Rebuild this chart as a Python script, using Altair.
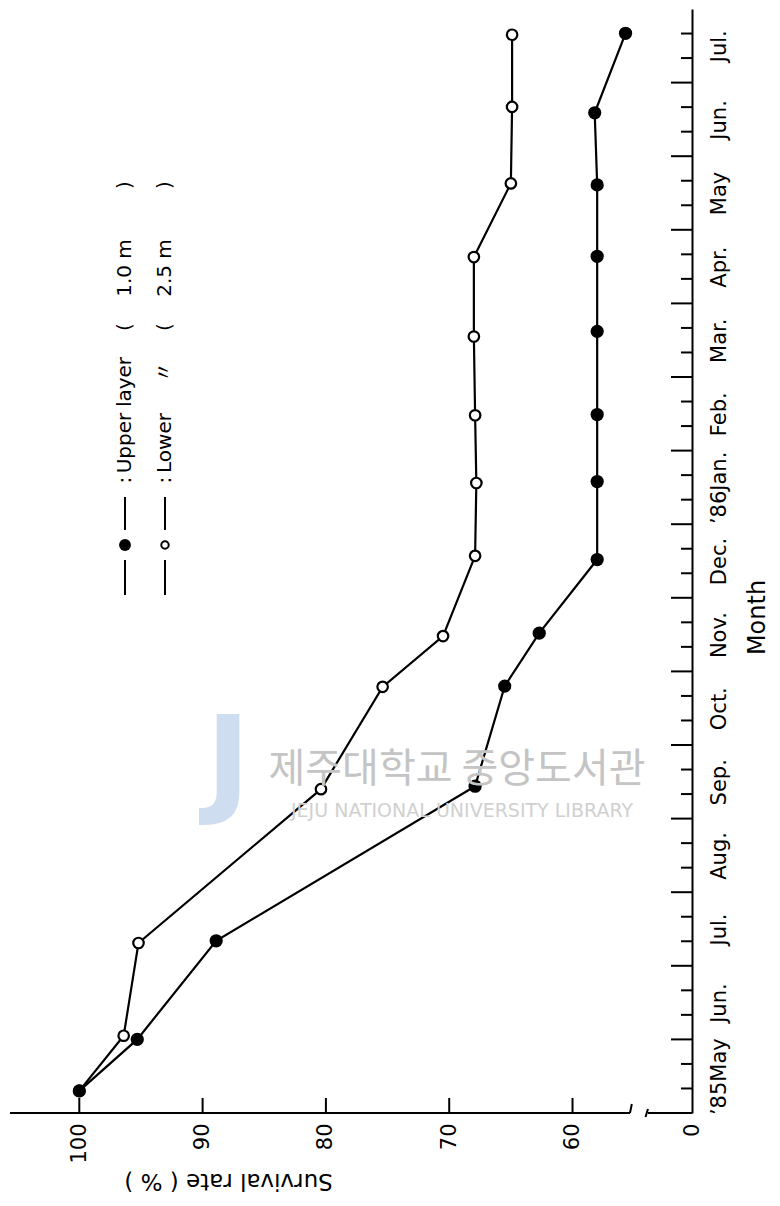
import json
import altair as alt
import pandas as pd

# ---------------- data ----------------
month_labels = ["\u201985May", "Jun.", "Jul.", "Aug.", "Sep.", "Oct.", "Nov.", "Dec.",
                "\u201986Jan.", "Feb.", "Mar.", "Apr.", "May", "Jun.", "Jul."]

# time in months since 1 May 1985
upper_t = [0.30, 1.00, 2.34, 4.44, 5.80, 6.52, 7.52, 8.58, 9.49, 10.62, 11.64, 12.61, 13.59, 14.67]
upper_rate = [100.0, 95.3, 88.9, 67.9, 65.5, 62.7, 58.0, 58.0, 58.0, 58.0, 58.0, 58.0, 58.2, 55.7]

lower_t = [0.30, 1.05, 2.31, 4.40, 5.79, 6.48, 7.57, 8.56, 9.48, 10.55, 11.63, 12.63, 13.67, 14.65]
lower_rate = [100.0, 96.4, 95.2, 80.4, 75.4, 70.5, 67.9, 67.8, 67.9, 68.0, 68.0, 65.0, 64.9, 64.9]

rate_ticks = [100, 90, 80, 70, 60]

# broken survival axis: left end, break, and the position labelled "0"
AXIS_LEFT = 105.62
BREAK_A = 55.34
BREAK_B = 53.88
ZERO_POS = 50.31

W, H = 682, 1104
FONT = "DejaVu Sans"

x_scale = alt.Scale(domain=[AXIS_LEFT, ZERO_POS], nice=False, zero=False)
y_scale = alt.Scale(domain=[0, 15], nice=False, zero=False)

month_expr = json.dumps(month_labels, ensure_ascii=False) + "[floor(datum.value)]"

x_axis = alt.Axis(
    values=rate_ticks + [ZERO_POS],
    labelExpr="datum.value < 55 ? '0' : datum.label",
    ticks=False, domain=False, grid=False,
    labelAngle=270, labelAlign="right", labelBaseline="middle",
    labelPadding=10, labelFont=FONT, labelFontSize=21, labelColor="black",
    labelFlush=False, labelOverlap=False,
    title="Survival  rate ( % )", titleFont=FONT, titleFontSize=23,
    titleFontWeight="normal", titleColor="black", titleAngle=180,
    titleAlign="center", titleBaseline="middle", titleX=218, titleY=67,
)
y_axis = alt.Axis(
    orient="right",
    values=[i + 0.5 for i in range(15)],
    labelExpr=month_expr,
    ticks=False, domain=True, domainColor="black", domainWidth=2, grid=False,
    labelAngle=270, labelAlign="center", labelBaseline="top",
    labelPadding=16, labelFont=FONT, labelFontSize=21, labelColor="black",
    labelFlush=False, labelOverlap=False,
    title="Month", titleFont=FONT, titleFontSize=24, titleFontWeight="normal",
    titleColor="black", titleAngle=270, titleAlign="center",
    titleBaseline="middle", titleX=65, titleY=608,
)

X = alt.X("rate:Q", scale=x_scale, axis=x_axis)
Y = alt.Y("t:Q", scale=y_scale, axis=y_axis)

upper_df = pd.DataFrame({"t": upper_t, "rate": upper_rate, "layer": "Upper"})
lower_df = pd.DataFrame({"t": lower_t, "rate": lower_rate, "layer": "Lower"})
both_df = pd.concat([upper_df, lower_df], ignore_index=True)

lines = alt.Chart(both_df).mark_line(color="black", strokeWidth=2.2).encode(
    x=X, y=Y, detail="layer:N", order="t:Q"
)
open_pts = alt.Chart(lower_df).mark_point(
    shape="circle", filled=True, fill="white", stroke="black", strokeWidth=2.2,
    size=110, opacity=1
).encode(x=X, y=Y)
filled_pts = alt.Chart(upper_df).mark_point(
    shape="circle", filled=True, color="black", size=175, opacity=1
).encode(x=X, y=Y)

# survival axis line with a break
seg_df = pd.DataFrame({"rate": [AXIS_LEFT, BREAK_B], "rate2": [BREAK_A, ZERO_POS]})
axis_line = alt.Chart(seg_df).mark_rule(color="black", strokeWidth=2).encode(
    x=X, x2="rate2:Q", y=alt.value(H)
)
brk_df = pd.DataFrame({"rate": [BREAK_A, BREAK_B], "rate2": [BREAK_A - 0.15, BREAK_B + 0.2]})
brk1 = alt.Chart(brk_df.iloc[[0]]).mark_rule(color="black", strokeWidth=2).encode(
    x=X, x2="rate2:Q", y=alt.value(H), y2=alt.value(H - 9)
)
brk2 = alt.Chart(brk_df.iloc[[1]]).mark_rule(color="black", strokeWidth=2).encode(
    x=X, x2="rate2:Q", y=alt.value(H - 4), y2=alt.value(H + 4)
)
rate_tick_df = pd.DataFrame({"rate": rate_ticks})
rate_ticks_layer = alt.Chart(rate_tick_df).mark_rule(color="black", strokeWidth=2).encode(
    x=X, y=alt.value(H), y2=alt.value(H - 15)
)

# month axis ticks (inward): month boundaries long, ten-day marks short
long_t = [float(k) for k in range(1, 15)]
short_t = [k / 3 for k in range(1, 45) if k % 3 != 0]
long_ticks = alt.Chart(pd.DataFrame({"t": long_t})).mark_rule(color="black", strokeWidth=2).encode(
    y=Y, x=alt.value(W), x2=alt.value(W - 21)
)
short_ticks = alt.Chart(pd.DataFrame({"t": short_t})).mark_rule(color="black", strokeWidth=2).encode(
    y=Y, x=alt.value(W), x2=alt.value(W - 11)
)

one = pd.DataFrame({"a": [0]})


def txt(s, px, py, size=20, angle=270, align="center", color="black", font=FONT, weight="normal", opacity=1):
    return alt.Chart(one).mark_text(
        text=s, angle=angle, align=align, baseline="middle", fontSize=size,
        font=font, color=color, fontWeight=weight, opacity=opacity
    ).encode(x=alt.value(px - 10), y=alt.value(py - 9))


def vseg(px, py1, py2):
    return alt.Chart(one).mark_rule(color="black", strokeWidth=2).encode(
        x=alt.value(px - 10), y=alt.value(py1 - 9), y2=alt.value(py2 - 9)
    )


def dot(px, py, filled):
    if filled:
        m = alt.Chart(one).mark_point(shape="circle", filled=True, color="black", size=140, opacity=1)
    else:
        m = alt.Chart(one).mark_point(shape="circle", filled=True, fill="white", stroke="black",
                                      strokeWidth=2, size=55, opacity=1)
    return m.encode(x=alt.value(px - 10), y=alt.value(py - 9))


# watermark of the scanned source
wm = [
    txt("J", 228, 765, size=120, angle=0, color="#a9c3e6", weight="bold", opacity=0.55),
    txt("제주대학교 중앙도서관", 457, 770, size=40, angle=0, color="#c4c4c4", font="Noto Sans CJK KR"),
    txt("JEJU NATIONAL UNIVERSITY  LIBRARY", 462, 811, size=19, angle=0, color="#d0d0d0"),
]

legend = [
    vseg(125, 595, 560), vseg(125, 530, 497), dot(125, 545, True),
    vseg(165, 595, 560), vseg(165, 530, 497), dot(165, 545, False),
    txt(":", 125, 480), txt(":", 165, 480),
    txt("Upper", 125, 443), txt("layer", 125, 382),
    txt("Lower", 165, 443), txt("\u3003", 165, 372, font="Noto Sans CJK KR"),
    txt("(", 125, 327), txt("1.0 m", 125, 268), txt(")", 125, 185),
    txt("(", 165, 327), txt("2.5 m", 165, 268), txt(")", 165, 185),
]

chart = alt.layer(
    *wm[:1], lines, open_pts, filled_pts, axis_line, brk1, brk2, rate_ticks_layer,
    long_ticks, short_ticks, *wm[1:], *legend
).properties(
    width=W, height=H,
    autosize=alt.AutoSizeParams(type="none"),
    padding={"left": 2, "top": 1, "right": 78, "bottom": 85},
).configure_view(strokeOpacity=0)

chart.save("out.html", embed_options={"renderer": "svg", "actions": False})
